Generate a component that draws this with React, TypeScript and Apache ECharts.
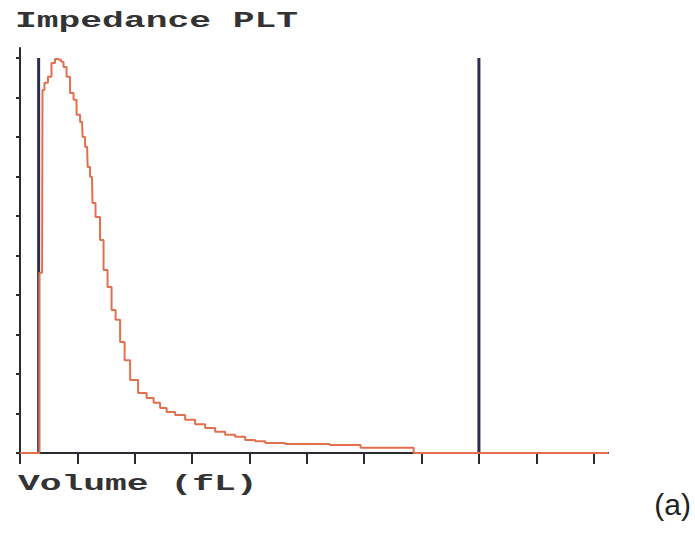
import React, { useEffect, useRef } from "react";
import * as echarts from "echarts";

// Histogram outline (volume fL, relative count)
const curveX = [0, 1.3, 1.4, 1.54, 1.6, 1.81, 2.09, 2.3, 2.58, 2.79, 2.93, 3.14, 3.35, 3.63, 3.84, 4.05, 4.33, 4.4, 4.68, 4.75, 5.02, 5.09, 5.44, 5.72, 5.93, 6.28, 6.49, 6.84, 7.12, 7.47, 7.89, 8.58, 9.07, 9.56, 9.98, 10.47, 11.17, 11.86, 12.56, 13.26, 13.96, 14.65, 15.35, 16.05, 16.75, 17.45, 19.5, 23.7, 23.8, 27.4, 27.5, 41];
const curveY = [0, 0, 45.6, 45.6, 91.9, 93.7, 95.2, 98.7, 99.7, 99.5, 99.0, 97.7, 95.2, 91.1, 89.4, 85.6, 83.8, 80.0, 77.5, 72.4, 69.9, 63.3, 59.7, 53.9, 46.3, 42.0, 36.2, 33.7, 28.1, 23.5, 18.5, 15.2, 13.9, 12.7, 11.4, 10.4, 9.6, 8.4, 7.3, 6.3, 5.4, 4.6, 4.1, 3.3, 3.0, 2.5, 2.3, 2.0, 1.3, 1.3, 0, 0];
const discriminators = [1.3, 32];
const xTicks = [0, 4, 8, 12, 16, 20, 24, 28, 32, 36, 40];
const yTicks = [0, 10, 20, 30, 40, 50, 60, 70, 80, 90, 100];
const titleText = "Impedance PLT";
const xLabelText = "Volume (fL)";
const panelText = "(a)";

export default function App() {
  const ref = useRef<HTMLDivElement>(null);
  useEffect(() => {
    if (!ref.current) return;
    const chart = echarts.init(ref.current, null, { renderer: "svg" });
    const mono = "'Liberation Mono', 'DejaVu Sans Mono', monospace";
    chart.setOption({
      animation: false,
      backgroundColor: "#ffffff",
      grid: { left: 20, top: 48, right: 87, bottom: 80 },
      xAxis: {
        type: "value",
        min: 0,
        max: 41,
        axisLine: { show: true, lineStyle: { color: "#2a2a33", width: 2 } },
        axisTick: { show: true, customValues: xTicks, length: 11, lineStyle: { color: "#2a2a33", width: 2 } },
        axisLabel: { show: false },
        splitLine: { show: false },
      },
      yAxis: {
        type: "value",
        min: 0,
        max: 102.5,
        axisLine: { show: true, lineStyle: { color: "#2a2a33", width: 2 } },
        axisTick: { show: true, customValues: yTicks, length: 4, lineStyle: { color: "#2a2a33", width: 2 } },
        axisLabel: { show: false },
        splitLine: { show: false },
      },
      series: [
        {
          type: "line",
          data: curveX.map((x, i) => [x, curveY[i]]),
          step: "middle",
          symbol: "none",
          lineStyle: { color: "#e2704f", width: 2 },
          z: 3,
        },
        ...discriminators.map((d) => ({
          type: "line",
          data: [[d, 0], [d, 100]],
          symbol: "none",
          lineStyle: { color: "#2b2d55", width: 3 },
          z: 2,
        })),
      ],
      graphic: [
        {
          type: "text",
          x: 15,
          y: 21,
          scaleX: 1.65,
          style: { text: titleText, font: `bold 22px ${mono}`, fill: "#333", textVerticalAlign: "middle" },
        },
        {
          type: "text",
          x: 18,
          y: 484,
          scaleX: 1.65,
          style: { text: xLabelText, font: `bold 22px ${mono}`, fill: "#333", textVerticalAlign: "middle" },
        },
        {
          type: "text",
          x: 691,
          y: 504,
          style: { text: panelText, font: "30px 'Liberation Sans', Arial, sans-serif", fill: "#222", textAlign: "right", textVerticalAlign: "middle" },
        },
      ],
    });
    return () => chart.dispose();
  }, []);
  return <div ref={ref} style={{ width: 695, height: 533, position: "absolute", left: 0, top: 0 }} />;
}
